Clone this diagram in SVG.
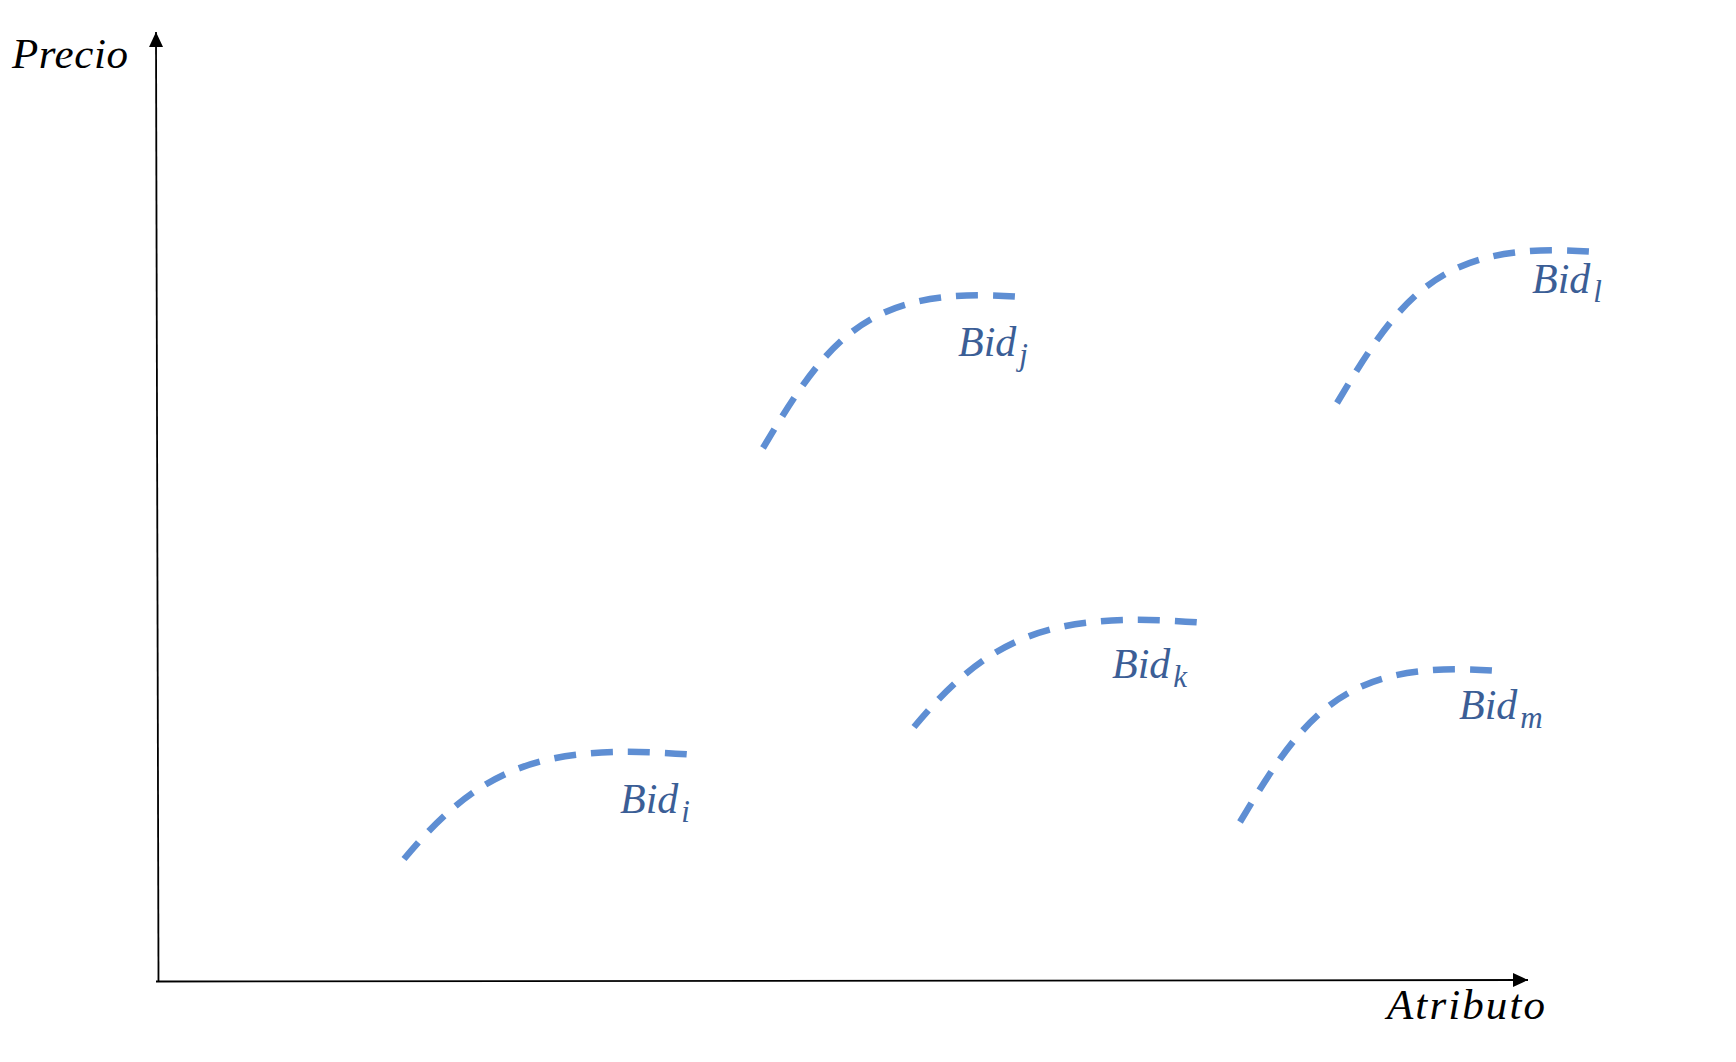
<svg xmlns="http://www.w3.org/2000/svg" width="1736" height="1062" viewBox="0 0 1736 1062">
<style>
.axis{stroke:#000;stroke-width:1.8;fill:none}
.bid{stroke:#5E8ED3;stroke-width:6.5;fill:none;stroke-dasharray:22 15}
.lbl{font-family:"Liberation Serif","Times New Roman",serif;font-style:italic;font-size:43px;fill:#000}
.bt{font-family:"Liberation Serif","Times New Roman",serif;font-style:italic;font-size:42px;fill:#3B5E96}
.sub{font-size:31px}
</style>
<defs>
<marker id="ah" markerUnits="userSpaceOnUse" markerWidth="16" markerHeight="16" viewBox="0 0 16 16" refX="15" refY="8" orient="auto">
<path d="M0,1 L15,8 L0,15 Z" fill="#000"/>
</marker>
</defs>
<g id="connectors">
<path class="axis" d="M158.5,982 L156,32" marker-end="url(#ah)"/>
<path class="axis" d="M156,981.5 L1528,980" marker-end="url(#ah)"/>
</g>
<g id="axis-labels">
<text class="lbl" x="12" y="68" textLength="116" lengthAdjust="spacing">Precio</text>
<text class="lbl" x="1387" y="1019" textLength="158" lengthAdjust="spacing">Atributo</text>
</g>
<g id="bid-i">
<path class="bid" d="M404,859 C480,768 540,742 695,755"/>
<text class="bt" x="620" y="813">Bid<tspan class="sub" dx="3" dy="9">i</tspan></text>
</g>
<g id="bid-j">
<path class="bid" d="M763,448 C830,335 870,285 1022,297"/>
<text class="bt" x="958" y="356">Bid<tspan class="sub" dx="3" dy="9">j</tspan></text>
</g>
<g id="bid-k">
<path class="bid" d="M914,727 C990,636 1050,610 1205,623"/>
<text class="bt" x="1112" y="678">Bid<tspan class="sub" dx="3" dy="9">k</tspan></text>
</g>
<g id="bid-l">
<path class="bid" d="M1337,403 C1404,290 1444,240 1596,252"/>
<text class="bt" x="1532" y="293">Bid<tspan class="sub" dx="3" dy="9">l</tspan></text>
</g>
<g id="bid-m">
<path class="bid" d="M1240,822 C1307,709 1347,659 1499,671"/>
<text class="bt" x="1459" y="719">Bid<tspan class="sub" dx="3" dy="9">m</tspan></text>
</g>
</svg>
